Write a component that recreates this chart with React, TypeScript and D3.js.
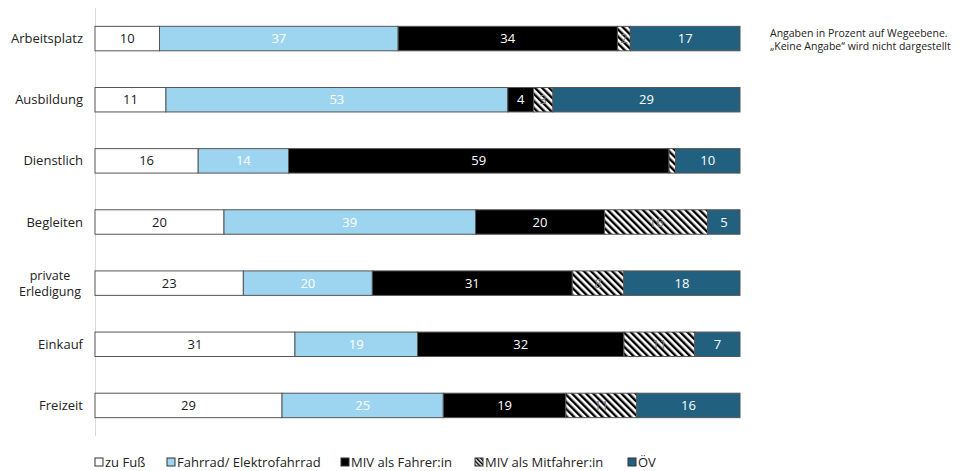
import React from "react";
import * as d3 from "d3";

const categories = ["Arbeitsplatz", "Ausbildung", "Dienstlich", "Begleiten", "private Erledigung", "Einkauf", "Freizeit"];
const seriesNames = ["zu Fuß", "Fahrrad/ Elektrofahrrad", "MIV als Fahrer:in", "MIV als Mitfahrer:in", "ÖV"];
const zuFuss = [10, 11, 16, 20, 23, 31, 29];
const fahrrad = [37, 53, 14, 39, 20, 19, 25];
const mivFahrer = [34, 4, 59, 20, 31, 32, 19];
const mivMitfahrer = [2, 3, 1, 16, 8, 11, 11];
const oev = [17, 29, 10, 5, 18, 7, 16];
const noteLines = ["Angaben in Prozent auf Wegeebene.", "„Keine Angabe“ wird nicht dargestellt"];

const fills = ["#ffffff", "#9dd5f1", "#000000", "url(#hatch)", "#21617f"];
const textColors = ["#1a1a1a", "#ffffff", "#ffffff", "#7a7a7a", "#ffffff"];
const legendX = [95, 167, 341, 475, 628];
const FONT = "'Open Sans', sans-serif";

export default function App() {
  const W = 965, H = 471;
  const series = [zuFuss, fahrrad, mivFahrer, mivMitfahrer, oev];
  const rows = categories.map((c, i) => {
    const o: any = { cat: c };
    seriesNames.forEach((s, k) => (o[s] = series[k][i]));
    return o;
  });
  const stacked = d3.stack<any>().keys(seriesNames)(rows);
  const x = d3.scaleLinear().domain([0, 100]).range([95, 740]);
  const y = d3.scaleBand().domain(categories).range([8, 436]).paddingInner(0.6).paddingOuter(0.3);
  const bh = y.bandwidth();

  return (
    <svg width={W} height={H} style={{ position: "absolute", left: 0, top: 0, fontFamily: FONT }}>
      <defs>
        <pattern id="hatch" patternUnits="userSpaceOnUse" width="5" height="5" patternTransform="rotate(-45)">
          <rect width="5" height="5" fill="#ffffff" />
          <rect width="2.4" height="5" fill="#000000" />
        </pattern>
        <pattern id="hatchLeg" patternUnits="userSpaceOnUse" width="3" height="3" patternTransform="rotate(-45)">
          <rect width="3" height="3" fill="#ffffff" />
          <rect width="1.5" height="3" fill="#000000" />
        </pattern>
      </defs>
      <line x1={95.5} x2={95.5} y1={8} y2={436} stroke="#d9d9d9" strokeWidth={1} />
      {stacked.map((layer, k) => (
        <g key={k}>
          {layer.map((d, i) => {
            const x0 = x(d[0]), x1 = x(d[1]);
            const yy = y(categories[i])!;
            const v = d[1] - d[0];
            return (
              <g key={i}>
                <rect x={x0} y={yy} width={x1 - x0} height={bh} fill={fills[k]} stroke="#555" strokeWidth={1} />
                {v >= 2 && (
                  <text x={(x0 + x1) / 2} y={yy + bh / 2} dy="0.35em" textAnchor="middle" fontSize={13} fill={textColors[k]}>
                    {v}
                  </text>
                )}
              </g>
            );
          })}
        </g>
      ))}
      {categories.map((c) => {
        const cy = y(c)! + bh / 2;
        const words = c === "private Erledigung" ? ["private", "Erledigung"] : [c];
        if (words.length === 1)
          return (
            <text key={c} x={83} y={cy} dy="0.35em" textAnchor="end" fontSize={13} fill="#222">
              {c}
            </text>
          );
        return (
          <g key={c}>
            <text x={50} y={cy - 7.5} dy="0.35em" textAnchor="middle" fontSize={12.5} fill="#222">{words[0]}</text>
            <text x={50} y={cy + 8} dy="0.35em" textAnchor="middle" fontSize={12.5} fill="#222">{words[1]}</text>
          </g>
        );
      })}
      {noteLines.map((t, i) => (
        <text key={i} x={770} y={33 + i * 13} dy="0.35em" fontSize={10.5} fill="#222">
          {t}
        </text>
      ))}
      {seriesNames.map((s, k) => (
        <g key={s} transform={`translate(${legendX[k]},462)`}>
          <rect x={0} y={-4} width={8} height={8} fill={k === 3 ? "url(#hatchLeg)" : fills[k]} stroke="#333" strokeWidth={1} />
          <text x={10} y={0} dy="0.35em" fontSize={13} fill="#222">
            {s}
          </text>
        </g>
      ))}
    </svg>
  );
}
